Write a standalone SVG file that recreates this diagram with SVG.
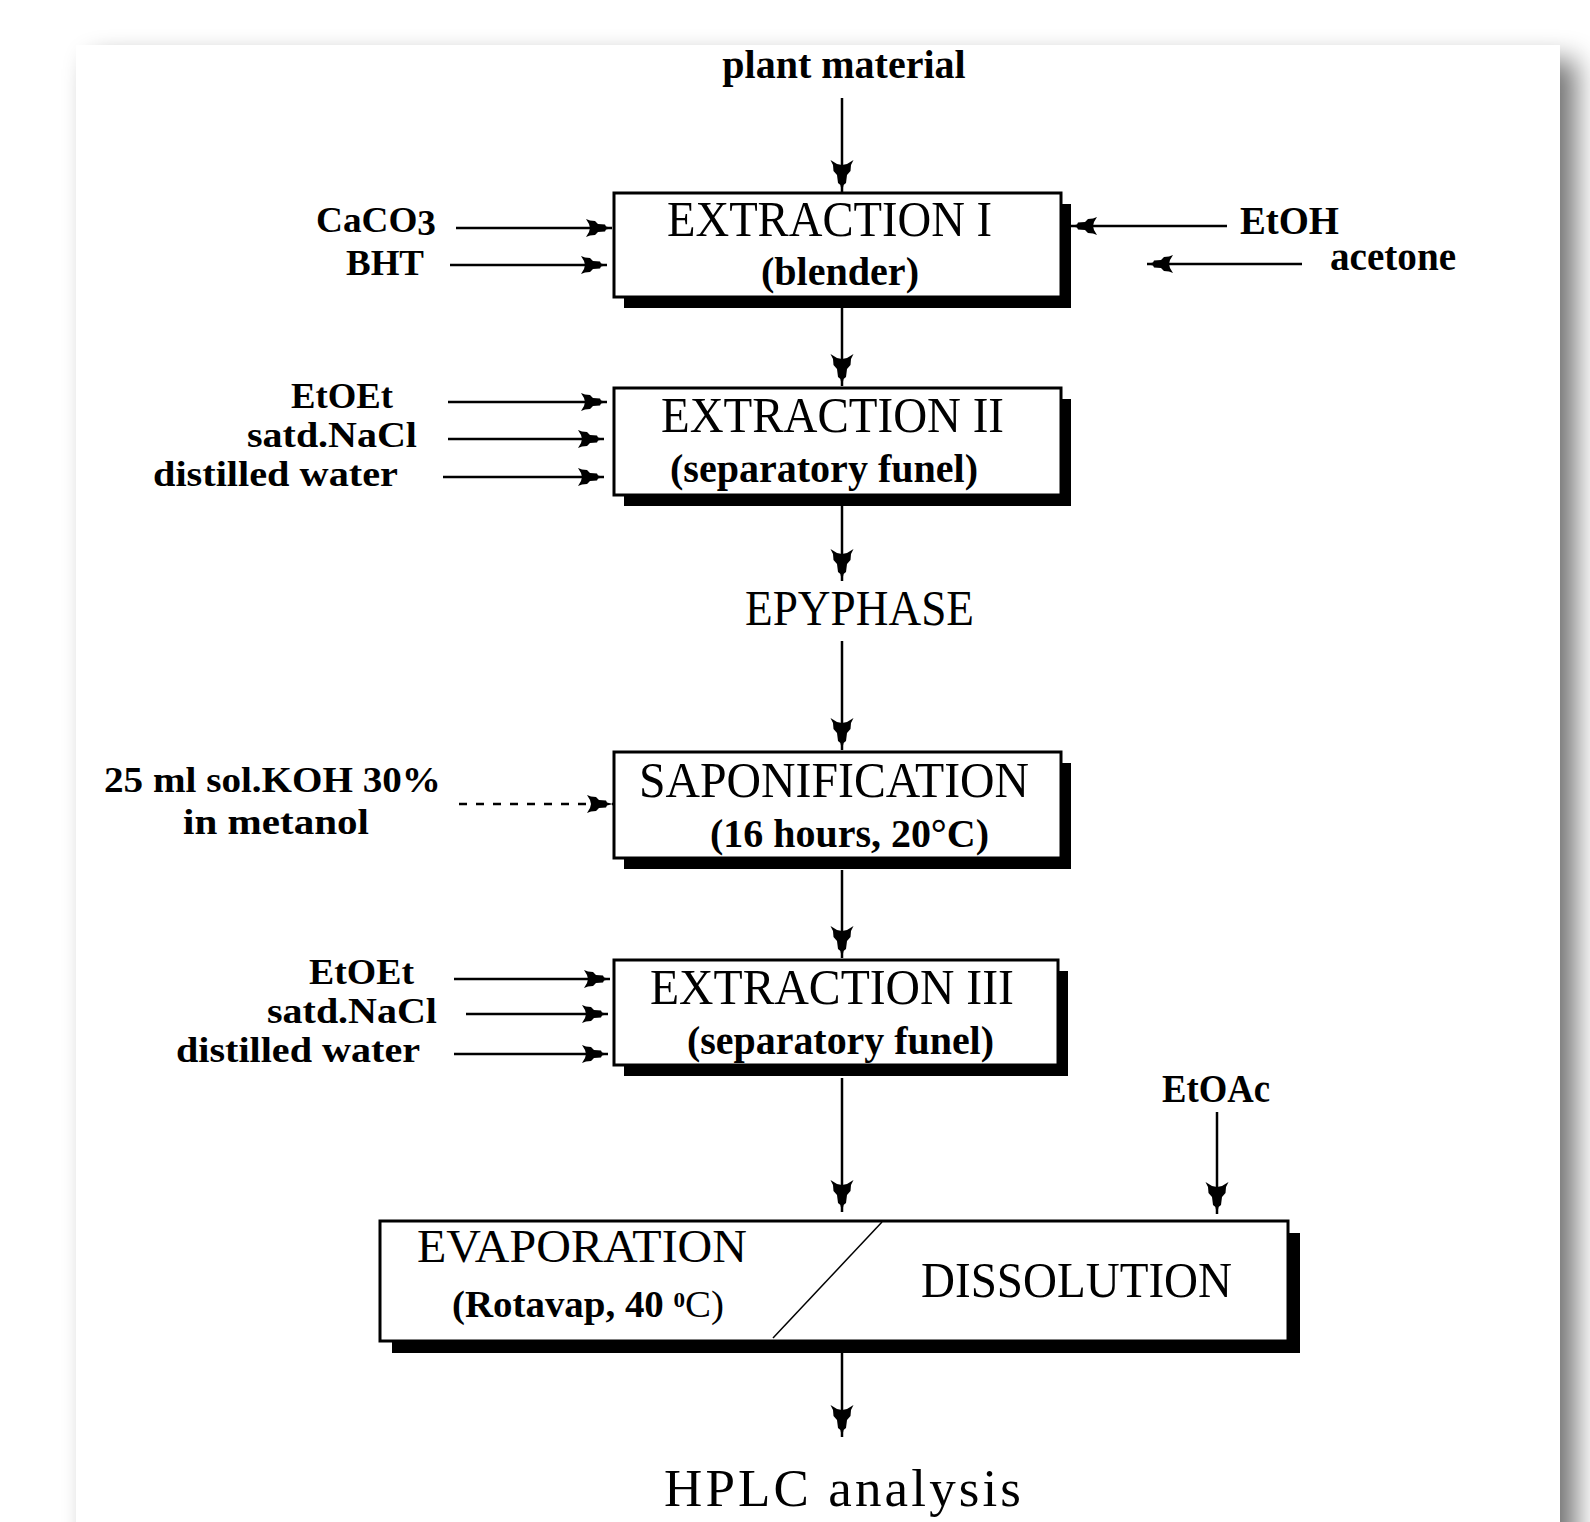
<svg xmlns="http://www.w3.org/2000/svg" width="1590" height="1522" viewBox="0 0 1590 1522">
<defs>
<style>
.b{font-family:"Liberation Serif","Times New Roman",serif;font-weight:bold;font-size:40px;fill:#000}
.s{font-size:36px}
.r{font-family:"Liberation Serif","Times New Roman",serif;font-weight:normal;font-size:50px;fill:#000}
.box{fill:#fff;stroke:#000;stroke-width:3}
.shd{fill:#000}
.ln{stroke:#000;stroke-width:2.5;fill:none}
.ah{marker-end:url(#big)}
.as{marker-end:url(#small)}
</style>
<filter id="blur" x="-5%" y="-5%" width="110%" height="110%"><feGaussianBlur stdDeviation="14"/></filter>
<marker id="big" markerUnits="userSpaceOnUse" viewBox="-34 -13 36 26" refX="0" refY="0" markerWidth="36" markerHeight="26" orient="auto">
<path d="M0,0 L-7,-1.6 L-9,-4 L-17,-5 L-21,-8.5 L-27,-9 L-32,-11.5 L-28,-5 L-27,0 L-28,5 L-32,11.5 L-27,9 L-21,8.5 L-17,5 L-9,4 L-7,1.6 Z" fill="#000"/>
</marker>
<marker id="small" markerUnits="userSpaceOnUse" viewBox="-34 -13 36 26" refX="0" refY="0" markerWidth="36" markerHeight="26" orient="auto">
<path d="M0,0 L-6,-1.5 L-7,-3.5 L-14,-4 L-17,-7 L-22,-7.5 L-26,-9 L-23,-4 L-22,0 L-23,4 L-26,9 L-22,7.5 L-17,7 L-14,4 L-7,3.5 L-6,1.5 Z" fill="#000"/>
</marker>
</defs>

<g id="page">
<rect x="0" y="0" width="1590" height="1522" fill="#fff"/>
<rect x="92" y="60" width="1484" height="1500" fill="#000" opacity="0.55" filter="url(#blur)"/>
<rect x="76" y="45" width="1484" height="1490" fill="#fff"/>
</g>

<g id="connectors">
<line class="ln ah" x1="842" y1="98" x2="842" y2="192"/>
<line class="ln ah" x1="842" y1="297" x2="842" y2="386"/>
<line class="ln ah" x1="842" y1="495" x2="842" y2="581"/>
<line class="ln ah" x1="842" y1="641" x2="842" y2="750"/>
<line class="ln ah" x1="842" y1="870" x2="842" y2="958"/>
<line class="ln ah" x1="842" y1="1078" x2="842" y2="1212"/>
<line class="ln ah" x1="1217" y1="1112" x2="1217" y2="1214"/>
<line class="ln ah" x1="842" y1="1341" x2="842" y2="1437"/>
<line class="ln as" x1="456" y1="228" x2="612" y2="228"/>
<line class="ln as" x1="450" y1="265" x2="607" y2="265"/>
<line class="ln as" x1="1227" y1="226" x2="1071" y2="226"/>
<line class="ln as" x1="1302" y1="264" x2="1147" y2="264"/>
<line class="ln as" x1="448" y1="402" x2="607" y2="402"/>
<line class="ln as" x1="448" y1="439" x2="604" y2="439"/>
<line class="ln as" x1="443" y1="477" x2="604" y2="477"/>
<line class="ln as" x1="459" y1="804" x2="613" y2="804" stroke-dasharray="8 9"/>
<line class="ln as" x1="454" y1="979" x2="610" y2="979"/>
<line class="ln as" x1="466" y1="1014" x2="608" y2="1014"/>
<line class="ln as" x1="454" y1="1054" x2="608" y2="1054"/>
</g>

<g id="plant-material"><text class="b" x="844" y="78" text-anchor="middle">plant material</text></g>

<g id="extraction-1">
<rect class="shd" x="624" y="204" width="447" height="104"/>
<rect class="box" x="614" y="193" width="447" height="104"/>
<text class="r" x="667" y="236" textLength="325" lengthAdjust="spacingAndGlyphs">EXTRACTION I</text>
<text class="b" x="761" y="285" textLength="158" lengthAdjust="spacingAndGlyphs">(blender)</text>
</g>
<g id="caco3"><text class="b s" x="316" y="232" textLength="120" lengthAdjust="spacingAndGlyphs">CaCO<tspan dy="3">3</tspan></text></g>
<g id="bht"><text class="b s" x="346" y="275" textLength="78" lengthAdjust="spacingAndGlyphs">BHT</text></g>
<g id="etoh"><text class="b" x="1240" y="234" textLength="99" lengthAdjust="spacingAndGlyphs">EtOH</text></g>
<g id="acetone"><text class="b" x="1330" y="270" textLength="126" lengthAdjust="spacingAndGlyphs">acetone</text></g>

<g id="extraction-2">
<rect class="shd" x="624" y="399" width="447" height="107"/>
<rect class="box" x="614" y="388" width="447" height="107"/>
<text class="r" x="661" y="432" textLength="343" lengthAdjust="spacingAndGlyphs">EXTRACTION II</text>
<text class="b" x="670" y="482" textLength="308" lengthAdjust="spacingAndGlyphs">(separatory funel)</text>
</g>
<g id="etoet-1"><text class="b s" x="291" y="408" textLength="102" lengthAdjust="spacingAndGlyphs">EtOEt</text></g>
<g id="nacl-1"><text class="b s" x="247" y="447" textLength="170" lengthAdjust="spacingAndGlyphs">satd.NaCl</text></g>
<g id="water-1"><text class="b s" x="153" y="486" textLength="245" lengthAdjust="spacingAndGlyphs">distilled water</text></g>

<g id="epyphase"><text class="r" x="745" y="625" textLength="229" lengthAdjust="spacingAndGlyphs">EPYPHASE</text></g>

<g id="saponification">
<rect class="shd" x="624" y="763" width="447" height="106"/>
<rect class="box" x="614" y="752" width="447" height="106"/>
<text class="r" x="639" y="797" textLength="390" lengthAdjust="spacingAndGlyphs">SAPONIFICATION</text>
<text class="b" x="710" y="847" textLength="279" lengthAdjust="spacingAndGlyphs">(16 hours, 20°C)</text>
</g>
<g id="koh">
<text class="b s" x="104" y="792" textLength="337" lengthAdjust="spacingAndGlyphs">25 ml sol.KOH 30%</text>
<text class="b s" x="183" y="834" textLength="186" lengthAdjust="spacingAndGlyphs">in metanol</text>
</g>

<g id="extraction-3">
<rect class="shd" x="624" y="971" width="444" height="105"/>
<rect class="box" x="614" y="960" width="444" height="105"/>
<text class="r" x="650" y="1004" textLength="364" lengthAdjust="spacingAndGlyphs">EXTRACTION III</text>
<text class="b" x="687" y="1054" textLength="307" lengthAdjust="spacingAndGlyphs">(separatory funel)</text>
</g>
<g id="etoet-2"><text class="b s" x="309" y="984" textLength="105" lengthAdjust="spacingAndGlyphs">EtOEt</text></g>
<g id="nacl-2"><text class="b s" x="267" y="1023" textLength="170" lengthAdjust="spacingAndGlyphs">satd.NaCl</text></g>
<g id="water-2"><text class="b s" x="176" y="1062" textLength="244" lengthAdjust="spacingAndGlyphs">distilled water</text></g>

<g id="etoac"><text class="b" x="1162" y="1102" textLength="108" lengthAdjust="spacingAndGlyphs">EtOAc</text></g>

<g id="evaporation-dissolution">
<rect class="shd" x="392" y="1233" width="908" height="120"/>
<rect class="box" x="380" y="1221" width="908" height="120"/>
<line x1="882" y1="1222" x2="773" y2="1338" stroke="#000" stroke-width="1.5"/>
<text class="r" x="417" y="1262" style="font-size:47px" textLength="330" lengthAdjust="spacingAndGlyphs">EVAPORATION</text>
<text class="b" x="452" y="1317" style="font-size:37px" textLength="272" lengthAdjust="spacingAndGlyphs">(Rotavap, 40 <tspan style="font-size:22px" dy="-10">0</tspan><tspan style="font-weight:normal" dy="10">C)</tspan></text>
<text class="r" x="921" y="1297" textLength="311" lengthAdjust="spacingAndGlyphs">DISSOLUTION</text>
</g>

<g id="hplc"><text class="r" x="664" y="1506" style="font-size:53px" textLength="357" lengthAdjust="spacing">HPLC analysis</text></g>
</svg>
